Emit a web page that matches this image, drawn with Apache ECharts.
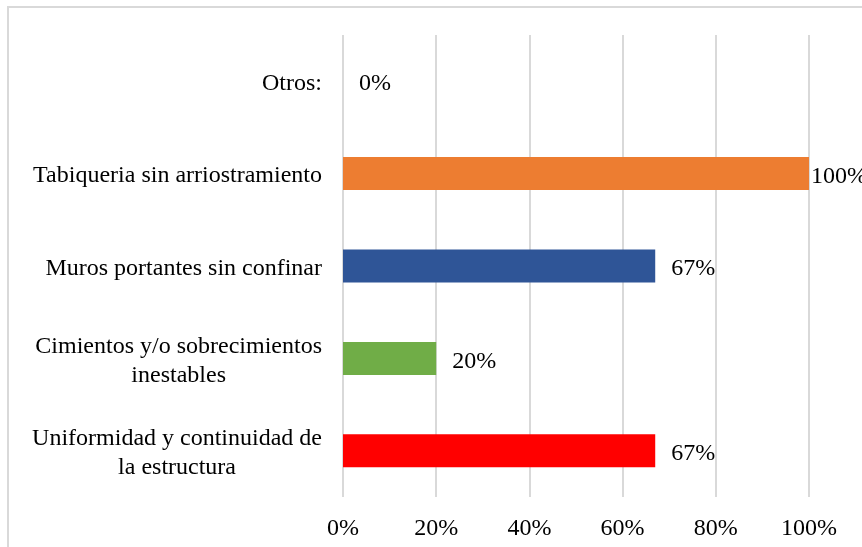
<!DOCTYPE html>
<html>
<head>
<meta charset="utf-8">
<script src="https://cdn.jsdelivr.net/npm/echarts@6/dist/echarts.min.js"></script>
<style>
  html, body { margin: 0; padding: 0; background: #fff; }
  #chart { width: 862px; height: 547px; }
</style>
</head>
<body>
<div id="chart"></div>
<script>
// categories listed bottom to top
const categories = [
  "Uniformidad y continuidad de\nla estructura",
  "Cimientos y/o sobrecimientos\ninestables",
  "Muros portantes sin confinar",
  "Tabiqueria sin arriostramiento",
  "Otros:"
];
const values = [67, 20, 67, 100, 0];
const barColors = ["#FF0000", "#70AD47", "#2F5597", "#ED7D31", "#4472C4"];
const tickLabels = ["0%", "20%", "40%", "60%", "80%", "100%"];

const font = "'Liberation Serif', 'Times New Roman', serif";

const chart = echarts.init(document.getElementById("chart"));
chart.setOption({
  animation: false,
  graphic: [{
    type: "rect",
    shape: { x: 8, y: 7, width: 900, height: 600 },
    style: { fill: "none", stroke: "#d9d9d9", lineWidth: 2 },
    silent: true
  }],
  grid: { left: 343, right: 53, top: 35, bottom: 50 },
  xAxis: {
    type: "value",
    min: 0,
    max: 100,
    interval: 20,
    axisLine: { show: false },
    axisTick: { show: false },
    splitLine: { lineStyle: { color: "#d9d9d9", width: 2 } },
    axisLabel: {
      margin: 20,
      color: "#000",
      fontFamily: font,
      fontSize: 24,
      formatter: function (v) { return tickLabels[v / 20]; }
    }
  },
  yAxis: {
    type: "category",
    data: categories,
    axisLine: { show: false },
    axisTick: { show: false },
    axisLabel: {
      margin: 21,
      color: "#000",
      fontFamily: font,
      fontSize: 24,
      lineHeight: 29,
      padding: [5, 0, 0, 0],
      formatter: function (v) {
        return v.split("\n").map(function (l) { return "{c|" + l + "}"; }).join("\n");
      },
      rich: {
        c: { align: "center", fontFamily: font, fontSize: 24, color: "#000", lineHeight: 29 }
      }
    }
  },
  series: [{
    type: "bar",
    barWidth: 33,
    data: values.map(function (v, i) {
      return {
        value: v,
        itemStyle: { color: barColors[i] },
        label: { distance: v >= 100 ? 2 : 16 }
      };
    }),
    label: {
      show: true,
      position: "right",
      offset: [0, 3],
      color: "#000",
      fontFamily: font,
      fontSize: 24,
      formatter: "{c}%"
    }
  }]
});
</script>
</body>
</html>
